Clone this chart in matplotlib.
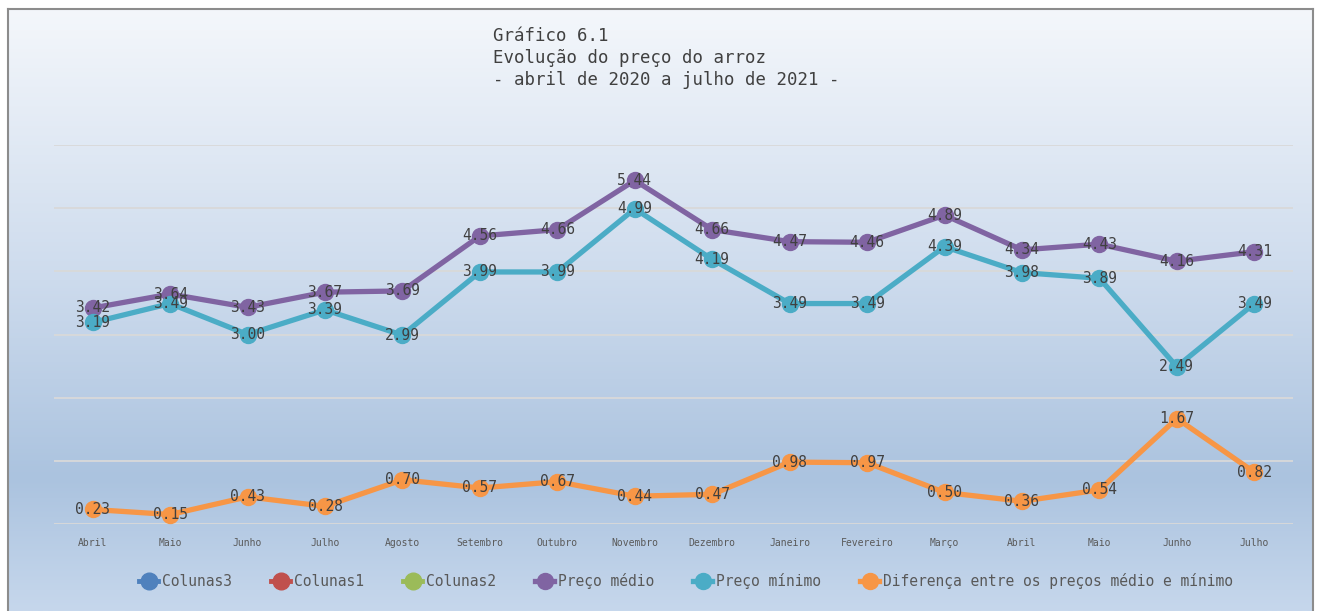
#!/usr/bin/env python3
# Gráfico 6.1 - evolução do preço do arroz, abril 2020 a julho 2021

import numpy as np
import matplotlib.pyplot as plt
from matplotlib.colors import LinearSegmentedColormap

meses = ['Abril', 'Maio', 'Junho', 'Julho', 'Agosto', 'Setembro', 'Outubro',
         'Novembro', 'Dezembro', 'Janeiro', 'Fevereiro', 'Março', 'Abril',
         'Maio', 'Junho', 'Julho']
preco_medio = [3.42, 3.64, 3.43, 3.67, 3.69, 4.56, 4.66, 5.44, 4.66, 4.47,
               4.46, 4.89, 4.34, 4.43, 4.16, 4.31]
preco_minimo = [3.19, 3.49, 3.00, 3.39, 2.99, 3.99, 3.99, 4.99, 4.19, 3.49,
                3.49, 4.39, 3.98, 3.89, 2.49, 3.49]
diferenca = [0.23, 0.15, 0.43, 0.28, 0.70, 0.57, 0.67, 0.44, 0.47, 0.98,
             0.97, 0.50, 0.36, 0.54, 1.67, 0.82]

mono = ['DejaVu Sans Mono']
W, H = 1321, 611
fig = plt.figure(figsize=(W / 100, H / 100), dpi=100)
fig.patch.set_facecolor('white')

# gradient background inside the frame
bg = fig.add_axes([8 / W, 0, (1313 - 8) / W, (H - 9) / H], zorder=0)
cmap = LinearSegmentedColormap.from_list(
    'bg', [(0, '#f4f7fb'), (0.45, '#cddbed'), (0.78, '#abc3df'), (1.0, '#c6d7ec')])
grad = np.linspace(0, 1, 256).reshape(-1, 1)
bg.imshow(grad, aspect='auto', cmap=cmap, extent=[0, 1, 1, 0])
bg.set_xticks([])
bg.set_yticks([])
for s in bg.spines.values():
    s.set_color('#8c8c8c')
    s.set_linewidth(1.5)
bg.spines['bottom'].set_visible(False)

ax = fig.add_axes([54 / W, (H - 524) / H, (1293 - 54) / W, (524 - 145) / H], zorder=1)
ax.patch.set_alpha(0)
x = np.arange(len(meses))
ax.set_xlim(-0.5, len(meses) - 0.5)
ax.set_ylim(0, 6)
ax.set_yticks(range(0, 7))
ax.yaxis.grid(True, color='#d9d9d9', lw=1.3)
ax.set_axisbelow(True)
ax.tick_params(axis='y', left=False, labelleft=False)
ax.tick_params(axis='x', length=0, pad=10)
ax.set_xticks(x)
ax.set_xticklabels(meses, fontsize=7, color='#595959', family=mono)
for s in ax.spines.values():
    s.set_visible(False)

# empty series, kept for the legend only
ax.plot([], [], '-o', color='#4f81bd', lw=3.5, ms=12, label='Colunas3')
ax.plot([], [], '-o', color='#c0504d', lw=3.5, ms=12, label='Colunas1')
ax.plot([], [], '-o', color='#9bbb59', lw=3.5, ms=12, label='Colunas2')

series = [(preco_medio, '#8064a2', 'Preço médio'),
          (preco_minimo, '#4bacc6', 'Preço mínimo'),
          (diferenca, '#f79646', 'Diferença entre os preços médio e mínimo')]
for vals, col, lab in series:
    ax.plot(x, vals, '-o', color=col, lw=3.8, ms=11.5, label=lab, zorder=3)
    for xi, v in zip(x, vals):
        ax.text(xi, v, '%.2f' % v, ha='center', va='center', fontsize=10.5,
                color='#404040', family=mono, zorder=4)

fig.text(493 / W, 1 - 27 / H,
         'Gráfico 6.1\nEvolução do preço do arroz\n- abril de 2020 a julho de 2021 -',
         ha='left', va='top', fontsize=12.5, color='#404040', family=mono,
         linespacing=1.3)

handles, labels = ax.get_legend_handles_labels()
fig.legend(handles, labels, loc='center', bbox_to_anchor=(686 / W, 1 - 581 / H),
           ncol=6, frameon=False, prop={'family': mono, 'size': 10.5},
           labelcolor='#595959', handlelength=1.3, handletextpad=0.25,
           columnspacing=2.7)

fig.savefig('out.png', dpi=100)
